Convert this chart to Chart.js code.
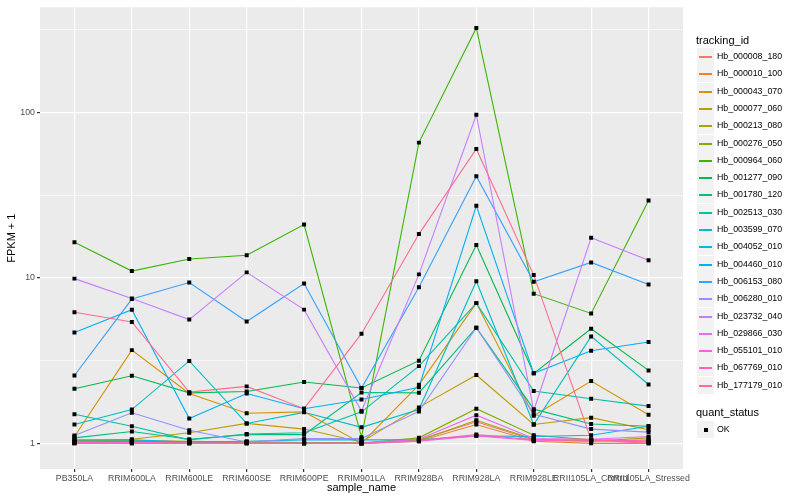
<!DOCTYPE html>
<html>
<head>
<meta charset="utf-8">
<script src="https://cdn.jsdelivr.net/npm/chart.js@4.4.0/dist/chart.umd.min.js"></script>
<style>
  body { margin: 0; background: #fff; }
  #wrap { position: relative; width: 800px; height: 500px; font-family: "Liberation Sans", Arial, sans-serif; }
  .ttl { position: absolute; left: 696px; font-size: 11px; line-height: 13px; color: #000; white-space: nowrap; }
  .key { position: absolute; left: 697px; width: 17px; height: 17px; background: #f2f2f2; }
  .key i { position: absolute; left: 2px; right: 2px; top: 8px; height: 1.5px; }
  .key b { position: absolute; left: 6.5px; top: 6.5px; width: 4px; height: 4px; background: #000; }
  .lab { position: absolute; left: 717px; font-size: 8.8px; line-height: 11px; color: #000; white-space: nowrap; }
</style>
</head>
<body>
<div id="wrap">
  <canvas id="fpkmChart" width="800" height="500"></canvas>
  <div id="legend"></div>
</div>
<script>
// العينات
const categories = ['PB350LA', 'RRIM600LA', 'RRIM600LE', 'RRIM600SE', 'RRIM600PE', 'RRIM901LA',
    'RRIM928BA', 'RRIM928LA', 'RRIM928LE', 'RRII105LA_Control', 'RRII105LA_Stressed'];

const trackingIds = ['Hb_000008_180', 'Hb_000010_100', 'Hb_000043_070', 'Hb_000077_060', 'Hb_000213_080',
    'Hb_000276_050', 'Hb_000964_060', 'Hb_001277_090', 'Hb_001780_120', 'Hb_002513_030',
    'Hb_003599_070', 'Hb_004052_010', 'Hb_004460_010', 'Hb_006153_080', 'Hb_006280_010',
    'Hb_023732_040', 'Hb_029866_030', 'Hb_055101_010', 'Hb_067769_010', 'Hb_177179_010'];

const lineColors = ['#F8766D', '#EA8331', '#D89000', '#C09B00', '#A3A500', '#7CAE00', '#39B600', '#00BB4E',
    '#00BF7D', '#00C1A3', '#00BFC4', '#00BAE0', '#00B0F6', '#35A2FF', '#9590FF', '#C77CFF',
    '#E76BF3', '#FA62DB', '#FF62BC', '#FF6C91'];

// FPKM + 1 لكل جين
const hb_000008_180 = [1.02, 1.03, 1.02, 1.01, 1.0, 1.0, 1.05, 1.35, 1.05, 1.04, 1.02];
const hb_000010_100 = [1.01, 1.02, 1.01, 1.01, 1.0, 1.0, 1.03, 1.30, 1.03, 1.0, 1.0];
const hb_000043_070 = [1.10, 3.66, 2.0, 1.52, 1.55, 1.0, 2.26, 7.04, 1.47, 2.38, 1.49];
const hb_000077_060 = [1.03, 1.06, 1.16, 1.32, 1.22, 1.02, 1.65, 2.59, 1.3, 1.43, 1.21];
const hb_000213_080 = [1.04, 1.04, 1.03, 1.02, 1.01, 1.01, 1.04, 1.38, 1.06, 1.03, 1.08];
const hb_000276_050 = [1.02, 1.03, 1.02, 1.02, 1.01, 1.0, 1.08, 1.62, 1.12, 1.05, 1.03];
const hb_000964_060 = [16.4, 11.0, 13.0, 13.7, 21.0, 1.09, 65.7, 324, 8.03, 6.1, 29.4];
const hb_001277_090 = [2.14, 2.56, 2.02, 2.06, 2.35, 2.16, 3.16, 15.8, 2.65, 4.93, 2.76];
const hb_001780_120 = [1.08, 1.18, 1.06, 1.13, 1.13, 2.03, 2.02, 5.0, 1.61, 1.31, 1.27];
const hb_002513_030 = [1.50, 1.27, 1.05, 1.14, 1.16, 1.55, 2.93, 7.04, 2.07, 1.86, 1.68];
const hb_003599_070 = [1.3, 1.6, 3.15, 1.32, 1.54, 1.25, 1.6, 9.55, 1.3, 4.43, 2.27];
const hb_004052_010 = [1.05, 1.05, 1.02, 1.03, 1.05, 1.05, 1.05, 1.11, 1.1, 1.12, 1.27];
const hb_004460_010 = [4.68, 6.42, 1.415, 2.0, 1.62, 1.84, 2.18, 27.3, 2.65, 3.63, 4.1];
const hb_006153_080 = [2.57, 7.45, 9.38, 5.45, 9.25, 2.16, 8.77, 41.2, 9.48, 12.4, 9.12];
const hb_006280_010 = [1.116, 1.53, 1.2, 1.02, 1.07, 1.07, 1.56, 5.0, 1.5, 1.22, 1.17];
const hb_023732_040 = [9.9, 7.5, 5.6, 10.8, 6.43, 1.57, 10.5, 96.9, 1.58, 17.5, 12.8];
const hb_029866_030 = [1.0, 1.0, 1.0, 1.0, 1.0, 1.0, 1.06, 1.48, 1.07, 1.06, 1.1];
const hb_055101_010 = [1.0, 1.01, 1.0, 1.0, 1.0, 1.0, 1.03, 1.11, 1.04, 1.03, 1.05];
const hb_067769_010 = [1.01, 1.0, 1.0, 1.0, 1.0, 1.0, 1.04, 1.13, 1.05, 1.05, 1.03];
const hb_177179_010 = [6.2, 5.42, 2.04, 2.21, 1.62, 4.6, 18.4, 60.2, 10.4, 1.05, 1.0];

const seriesValues = [hb_000008_180, hb_000010_100, hb_000043_070, hb_000077_060, hb_000213_080,
    hb_000276_050, hb_000964_060, hb_001277_090, hb_001780_120, hb_002513_030,
    hb_003599_070, hb_004052_010, hb_004460_010, hb_006153_080, hb_006280_010,
    hb_023732_040, hb_029866_030, hb_055101_010, hb_067769_010, hb_177179_010];

const yMajorTicks = [1, 10, 100];
const yMinorTicks = [3.1623, 31.623, 316.23];

// خلفية اللوحة الرمادية
const panelBackground = {
    id: 'panelBackground',
    beforeDraw(chart) {
        const { ctx, chartArea: a } = chart;
        ctx.save();
        ctx.fillStyle = '#ebebeb';
        ctx.fillRect(a.left, a.top, a.right - a.left, a.bottom - a.top);
        ctx.restore();
    }
};

Chart.defaults.font.family = '"Liberation Sans", Arial, sans-serif';

const isMajor = v => yMajorTicks.includes(v);

const lineSets = seriesValues.map((vals, i) => ({
    label: trackingIds[i],
    data: vals.map((v, j) => ({ x: j, y: v })),
    borderColor: lineColors[i],
    borderWidth: 1.1,
    pointRadius: 0,
    tension: 0,
    order: seriesValues.length - i
}));

// نقاط quant_status = OK
const okPoints = {
    label: 'OK',
    data: seriesValues.flatMap(vals => vals.map((v, j) => ({ x: j, y: v }))),
    showLine: false,
    pointStyle: 'rect',
    pointRadius: 2.8,
    pointBorderWidth: 0,
    pointBackgroundColor: '#000',
    order: 0
};

new Chart(document.getElementById('fpkmChart'), {
    type: 'line',
    data: { datasets: [...lineSets, okPoints] },
    options: {
        responsive: false,
        animation: false,
        layout: { padding: { top: 5, right: 117, left: 0, bottom: 0 } },
        plugins: { legend: { display: false }, tooltip: { enabled: false } },
        scales: {
            x: {
                type: 'linear',
                min: -0.6,
                max: 10.6,
                afterBuildTicks: axis => { axis.ticks = categories.map((c, i) => ({ value: i })); },
                afterFit: axis => { axis.height = 31; },
                border: { display: false },
                grid: { color: '#fff', lineWidth: 1.2, tickColor: '#333', tickLength: 3 },
                ticks: {
                    autoSkip: false, maxRotation: 0, minRotation: 0, padding: 1,
                    color: '#4d4d4d', font: { size: 8.8 },
                    callback: v => categories[v]
                },
                title: { display: true, text: 'sample_name', color: '#000', font: { size: 11 }, padding: { top: 0, bottom: 5 } }
            },
            y: {
                type: 'logarithmic',
                min: 0.749,
                max: 432,
                afterBuildTicks: axis => {
                    axis.ticks = [...yMajorTicks, ...yMinorTicks].sort((a, b) => a - b).map(v => ({ value: v }));
                },
                afterFit: axis => { axis.width = 40; },
                border: { display: false },
                grid: {
                    color: '#fff',
                    lineWidth: c => isMajor(c.tick.value) ? 1.2 : 0.6,
                    tickColor: c => isMajor(c.tick.value) ? '#333' : 'rgba(0,0,0,0)',
                    tickLength: 3
                },
                ticks: {
                    padding: 2, color: '#4d4d4d', font: { size: 8.8 },
                    callback: v => isMajor(v) ? String(v) : ''
                },
                title: { display: true, text: 'FPKM + 1', color: '#000', font: { size: 11 }, padding: { top: 5, bottom: 0 } }
            }
        }
    },
    plugins: [panelBackground]
});

// وسيلة الإيضاح
const legend = document.getElementById('legend');
let html = '<div class="ttl" style="top:34px">tracking_id</div>';
trackingIds.forEach((id, i) => {
    const top = Math.round(48 + i * 17.3);
    html += '<div class="key" style="top:' + top + 'px"><i style="background:' + lineColors[i] + '"></i></div>';
    html += '<div class="lab" style="top:' + (top + 3) + 'px">' + id + '</div>';
});
html += '<div class="ttl" style="top:406px">quant_status</div>';
html += '<div class="key" style="top:421px"><b></b></div>';
html += '<div class="lab" style="top:424px">OK</div>';
legend.innerHTML = html;
</script>
</body>
</html>
